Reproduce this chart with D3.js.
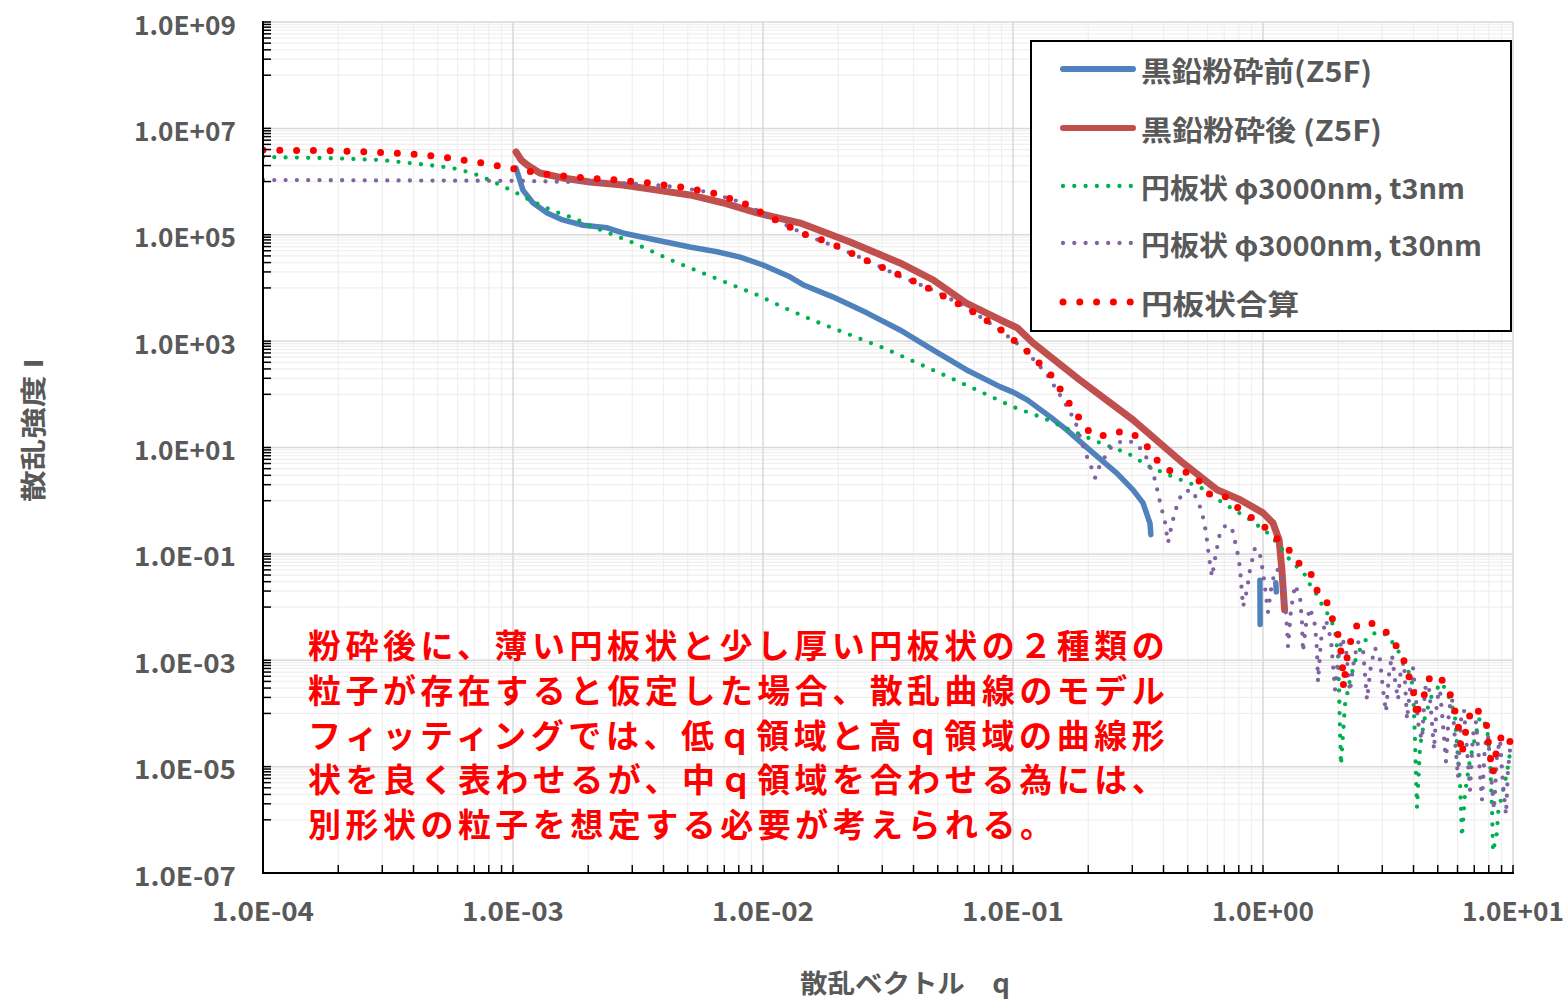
<!DOCTYPE html>
<html><head><meta charset="utf-8">
<script src="https://cdn.jsdelivr.net/npm/d3@7"></script>
<style>body{margin:0;background:#fff} svg{display:block}</style>
</head><body>
<svg id="chart" width="1565" height="1000"></svg>
<script>
// ---------- data ----------
const xTickValues = [1e-4, 1e-3, 1e-2, 1e-1, 1e0, 1e1];
const yTickValues = [1e9, 1e7, 1e5, 1e3, 1e1, 1e-1, 1e-3, 1e-5, 1e-7];
const seriesNames = ["黒鉛粉砕前(Z5F)", "黒鉛粉砕後 (Z5F)", "円板状 φ3000nm, t3nm", "円板状 φ3000nm, t30nm", "円板状合算"];
const xTitle = "散乱ベクトル　q";
const yTitle = "散乱強度 I";
const noteLines = [
  "粉砕後に、薄い円板状と少し厚い円板状の２種類の",
  "粒子が存在すると仮定した場合、散乱曲線のモデル",
  "フィッティングでは、低ｑ領域と高ｑ領域の曲線形",
  "状を良く表わせるが、中ｑ領域を合わせる為には、",
  "別形状の粒子を想定する必要が考えられる。"
];

// [q, I]  (null I = gap)
const beforeData = [
  [1.028e-3,1.8e6],[1.096e-3,6.9e5],[1.20e-3,4.0e5],[1.37e-3,2.57e5],[1.58e-3,1.9e5],[1.91e-3,1.51e5],
  [2.38e-3,1.35e5],[2.75e-3,1.08e5],[3.77e-3,7.9e4],[5.1e-3,5.9e4],[6.55e-3,4.8e4],[8.1e-3,3.8e4],
  [1.0e-2,2.7e4],[1.28e-2,1.62e4],[1.445e-2,1.15e4],[1.9e-2,6.8e3],[2.6e-2,3.4e3],[3.53e-2,1.62e3],
  [4.8e-2,680],[6.5e-2,290],[8.9e-2,138],[0.1,110],[0.114,78.5],[0.141,37.6],[0.164,21.4],[0.209,7.9],
  [0.26,3.3],[0.302,1.6],[0.331,0.91],[0.353,0.38],[0.356,0.23],
  [0.6,null],
  [0.972,0.032],[0.974,0.0047],
  [1.05,null],
  [1.125,0.0285],[1.13,0.0193]
];
const afterData = [
  [1.028e-3,3.6e6],[1.077e-3,2.55e6],[1.14e-3,2.05e6],[1.28e-3,1.45e6],[1.58e-3,1.17e6],[2.03e-3,9.8e5],
  [2.75e-3,8.6e5],[3.77e-3,6.9e5],[5.1e-3,5.6e5],[6.9e-3,4.0e5],[9.46e-3,2.57e5],[1.41e-2,1.66e5],
  [2.23e-2,7.3e4],[3.53e-2,2.95e4],[4.8e-2,1.41e4],[6.5e-2,5.2e3],[8.9e-2,2.5e3],[0.104,1.78e3],
  [0.12,930],[0.185,186],[0.302,33],[0.479,5.1],[0.655,1.6],[0.81,1.04],[1.0,0.59],[1.096,0.38],
  [1.16,0.183],[1.19,0.05],[1.22,0.0089]
];
const disk3Data = [
  [1e-4,2.9e6],[1.85e-4,2.75e6],[2.94e-4,2.55e6],[4.57e-4,2.05e6],[5.7e-4,1.8e6],[6.86e-4,1.45e6],
  [8.25e-4,1.02e6],[1e-3,6.6e5],[1.2e-3,4.2e5],[1.445e-3,2.8e5],[1.74e-3,2.07e5],[2.09e-3,1.4e5],
  [3.02e-3,7.1e4],[4.37e-3,3.2e4],[6.55e-3,1.48e4],[9.46e-3,7.4e3],[1.25e-2,4.0e3],[1.64e-2,2.3e3],
  [2.23e-2,1.31e3],[3.02e-2,750],[4.13e-2,390],[5.6e-2,205],[7.6e-2,106],[0.1,58],[0.132,36],
  [0.169,21.4],[0.223,12.2],[0.286,7.9],[0.353,4.3],[0.437,2.8],[0.56,1.8],[0.69,0.91],[0.887,0.44],
  [1.04,0.25],[1.14,0.16],[1.28,0.077],[1.5,0.037],[1.542,0.0261],[1.644,0.017],[1.722,0.011],
  [1.854,0.0063],[1.941,0.0037],[1.995,0.00126],[2.014,2.78e-4],[2.032,4.9e-5],[2.051,1.07e-5],
  [2.089,3.98e-5],[2.128,1.45e-4],[2.228,4.27e-4],[2.377,1.26e-3],[2.606,2.63e-3],[2.858,3.42e-3],
  [3.133,3.0e-3],[3.373,1.86e-3],[3.597,1.15e-3],[3.873,5.3e-4],[3.981,3.16e-4],[4.055,3.16e-5],
  [4.13,1.7e-6],[4.246,2.35e-5],[4.446,8.7e-5],[4.742,2.24e-4],[5.2,3.8e-4],[5.6,1.82e-4],[5.86,8.7e-5],
  [6.03,1.35e-5],[6.14,5.1e-6],[6.25,4.8e-7],[6.43,3.2e-6],[6.73,1.35e-5],[7.38,8.7e-5],[7.87,5.6e-5],
  [8.09,1.35e-5],[8.24,1.7e-6],[8.32,2.5e-7],[8.63,5.7e-7],[8.71,1.35e-6],[9.46,7.6e-6],[9.73,1.82e-5]
];
const disk30Data = [
  [1e-4,1.07e6],[1.047e-3,1.03e6],[1.77e-3,9.8e5],[2.40e-3,9.4e5],[3.28e-3,9.0e5],[4.45e-3,7.9e5],
  [5.97e-3,6.4e5],[8.1e-3,4.14e5],[1.148e-2,1.82e5],[1.51e-2,9.5e4],[2.01e-2,5.65e4],[2.68e-2,3.08e4],
  [3.5e-2,1.68e4],[4.66e-2,9.6e3],[6.25e-2,4.8e3],[8.63e-2,1.77e3],[0.1096,740],[0.1355,252],
  [0.1585,78.5],[0.177,31.6],[0.194,8.3],[0.207,3.96],[0.213,2.69],[0.219,3.96],[0.238,7.9],[0.251,11.2],
  [0.275,13.3],[0.302,12.7],[0.328,9.0],[0.344,6.1],[0.37,2.46],[0.387,0.95],[0.406,0.383],[0.417,0.161],
  [0.433,0.383],[0.457,0.95],[0.479,1.46],[0.52,1.6],[0.55,0.95],[0.57,0.615],[0.592,0.248],[0.608,0.088],
  [0.625,0.037],[0.649,0.105],[0.673,0.248],[0.711,0.351],[0.752,0.295],[0.787,0.119],[0.809,0.0546],
  [0.832,0.0101],[0.863,0.021],[0.887,0.050],[0.929,0.13],[0.973,0.0957],[1.0,0.0459],[1.019,0.023],
  [1.047,0.0081],[1.076,0.021],[1.117,0.050],[1.17,0.050],[1.213,0.021],[1.247,0.00425],[1.259,0.00179],
  [1.294,0.00885],[1.343,0.0261],[1.406,0.0156],[1.432,0.00527],[1.445,0.00144],[1.486,0.00462],
  [1.542,0.00966],[1.614,0.00462],[1.644,0.00157],[1.66,3.93e-4],[1.706,0.00242],[1.786,0.00574],
  [1.871,0.00242],[1.905,8.2e-4],[1.941,2.78e-4],[1.995,1.02e-3],[2.07,2.64e-3],[2.148,1.57e-3],
  [2.228,2.55e-4],[2.312,1.02e-3],[2.399,2.22e-3],[2.512,1.57e-3],[2.606,1.8e-4],[2.704,8.2e-4],
  [2.805,1.71e-3],[2.938,1.02e-3],
  [3.020,2.78e-4],[3.105,1.07e-4],[3.192,5.3e-4],[3.281,1.26e-3],[3.373,4.29e-4],[3.467,1.8e-4],
  [3.565,7.2e-4],[3.664,9.3e-4],[3.767,7.6e-5],[3.873,2.78e-4],[3.981,7.2e-4],[4.093,1.8e-4],
  [4.207,4.9e-5],[4.325,3.19e-5],[4.446,2.78e-4],[4.571,4.67e-4],[4.699,1.17e-4],[4.831,2.07e-5],
  [4.966,1.8e-4],[5.105,2.78e-4],[5.248,6.1e-5],[5.395,1.23e-5],[5.546,1.17e-4],[5.702,1.96e-4],
  [5.861,3.19e-5],[6.026,6.2e-6],[6.194,7.6e-5],[6.368,1.17e-4],[6.546,2.07e-5],[6.730,3.66e-6],
  [6.918,3.96e-5],[7.112,6.95e-5],[7.311,1.34e-5],[7.516,2.38e-6],[7.727,2.57e-5],[7.943,3.96e-5],
  [8.166,7.0e-6],[8.395,1.54e-6],[8.630,1.67e-5],[8.872,3.19e-5],[9.120,4.55e-6],[9.376,1.24e-6],
  [9.550,8.7e-6],[9.727,2.07e-5]
];
const sumData = [
  [1e-4,3.93e6],[2.09e-4,3.76e6],[3.28e-4,3.45e6],[4.45e-4,3.16e6],[5.97e-4,2.66e6],[7.94e-4,2.14e6],
  [1.066e-3,1.65e6],[1.43e-3,1.33e6],[1.92e-3,1.17e6],[2.61e-3,1.07e6],[3.5e-3,9.4e5],[4.7e-3,7.9e5],
  [6.31e-3,6.1e5],[8.32e-3,3.98e5],[1.086e-2,2.07e5],[1.42e-2,1.08e5],[1.87e-2,7.0e4],[2.47e-2,3.66e4],
  [3.22e-2,2.09e4],[4.25e-2,1.19e4],[5.55e-2,6.2e3],[7.18e-2,3.24e3],[9.2e-2,1.49e3],[0.116,600],
  [0.143,222],[0.1675,69],[0.198,21.4],[0.221,15.8],[0.254,19.6],[0.294,19.6],[0.331,13.3],[0.36,7.9],
  [0.391,4.5],[0.441,3.33],[0.511,3.48],[0.565,2.16],[0.619,1.23],[0.718,1.18],[0.794,0.733],[0.879,0.518],
  [0.991,0.351],[1.096,0.238],[1.202,0.141],[1.318,0.105],[1.419,0.057],[1.556,0.042],[1.63,0.0229],
  [1.706,0.01426],[1.803,0.0120],[1.888,6.27e-3],[1.977,3.72e-3],[2.032,1.95e-3],[2.07,1.02e-3],
  [2.089,5.37e-4],[2.10,3.02e-4],[2.148,8.2e-4],[2.208,1.95e-3],[2.29,2.75e-3],[2.377,4.62e-3],
  [2.606,5.27e-3],[2.754,4.83e-3],[2.938,4.07e-3],[3.133,3.27e-3],[3.342,2.22e-3],[3.664,9.8e-4],
  [3.873,4.29e-4],[3.98,2.78e-4],[4.055,1.8e-4],[4.13,8.3e-5],[4.207,1.58e-4],[4.365,1.8e-4],
  [4.487,3.02e-4],[4.656,4.88e-4],[4.92,5.3e-4],[5.1,4.88e-4],[5.55,2.66e-4],[5.81,1.33e-4],[6.03,6.1e-5],
  [6.14,3.19e-5],[6.25,1.67e-5],[6.37,3.19e-5],[6.55,6.1e-5],[6.73,9.4e-5],[6.92,1.33e-4],[7.31,1.07e-4],
  [7.66,8.6e-5],[7.87,5.6e-5],[8.02,2.07e-5],[8.32,7.6e-6],[8.47,1.34e-5],[8.63,2.25e-5],[8.95,3.48e-5],
  [9.38,4.3e-5],[9.73,2.92e-5]
];

// ---------- layout ----------
const svg = d3.select("#chart");
const P = {left: 263, right: 1513, top: 22, bottom: 873};
const x = d3.scaleLog().domain([1e-4, 1e1]).range([P.left, P.right]);
const y = d3.scaleLog().domain([1e-7, 1e9]).range([P.bottom, P.top]);
const FONT = "'Noto Sans CJK JP','Noto Sans',sans-serif";
const GRAY = "#595959";

const xMinor = [];
for (let e = -4; e < 1; e++) for (let k = 2; k <= 9; k++) xMinor.push(k * Math.pow(10, e));
const yMinor = [];
for (let m = -7; m < 9; m += 2) for (let k = 1; k <= 9; k++) yMinor.push(k * Math.pow(10, m + 1));

const grid = svg.append("g");
grid.selectAll(".gxm").data(xMinor).join("line")
  .attr("x1", d => x(d)).attr("x2", d => x(d)).attr("y1", P.top).attr("y2", P.bottom)
  .attr("stroke", "#efefef").attr("stroke-width", 1.2);
grid.selectAll(".gym").data(yMinor).join("line")
  .attr("x1", P.left).attr("x2", P.right).attr("y1", d => y(d)).attr("y2", d => y(d))
  .attr("stroke", "#efefef").attr("stroke-width", 1.2);
grid.selectAll(".gxM").data(xTickValues).join("line")
  .attr("x1", d => x(d)).attr("x2", d => x(d)).attr("y1", P.top).attr("y2", P.bottom)
  .attr("stroke", "#d9d9d9").attr("stroke-width", 1.5);
grid.selectAll(".gyM").data(yTickValues).join("line")
  .attr("x1", P.left).attr("x2", P.right).attr("y1", d => y(d)).attr("y2", d => y(d))
  .attr("stroke", "#d9d9d9").attr("stroke-width", 1.5);

// ---------- series ----------
svg.append("clipPath").attr("id", "clip").append("rect")
  .attr("x", P.left).attr("y", P.top - 10).attr("width", P.right - P.left + 6).attr("height", P.bottom - P.top + 10);
const line = d3.line().defined(d => d[1] != null).x(d => x(d[0])).y(d => y(d[1]));
const series = svg.append("g").attr("clip-path", "url(#clip)");
const styles = [
  {data: beforeData, color: "#4f81bd", w: 5.5, dash: null},
  {data: afterData, color: "#c0504d", w: 7, dash: null},
  {data: disk3Data, color: "#00b050", w: 4.3, dash: "0,11.3"},
  {data: disk30Data, color: "#8064a2", w: 4.3, dash: "0,11.3"},
  {data: sumData, color: "#ff0000", w: 7, dash: "0,16.8"}
];
styles.forEach(s => {
  series.append("path").datum(s.data).attr("d", line)
    .attr("fill", "none").attr("stroke", s.color).attr("stroke-width", s.w)
    .attr("stroke-linecap", "round").attr("stroke-linejoin", "round")
    .attr("stroke-dasharray", s.dash);
});

// ---------- axes ----------
const fmt = v => { const e = Math.round(Math.log10(v)); return "1.0E" + (e < 0 ? "-" : "+") + String(Math.abs(e)).padStart(2, "0"); };
const axes = svg.append("g");
axes.selectAll(".ytk").data(yTickValues.concat(yMinor)).join("line")
  .attr("x1", P.left).attr("x2", P.left + 8).attr("y1", d => y(d)).attr("y2", d => y(d))
  .attr("stroke", "#000").attr("stroke-width", 1.5);
axes.selectAll(".xtk").data(xTickValues.concat(xMinor)).join("line")
  .attr("x1", d => x(d)).attr("x2", d => x(d)).attr("y1", P.bottom).attr("y2", P.bottom - 8)
  .attr("stroke", "#000").attr("stroke-width", 1.5);
axes.append("line").attr("x1", P.left).attr("x2", P.left).attr("y1", P.top - 1).attr("y2", P.bottom + 1)
  .attr("stroke", "#000").attr("stroke-width", 2);
axes.append("line").attr("x1", P.left - 1).attr("x2", P.right + 1).attr("y1", P.bottom).attr("y2", P.bottom)
  .attr("stroke", "#000").attr("stroke-width", 2);

axes.selectAll(".ylab").data(yTickValues).join("text")
  .attr("x", 236).attr("y", d => y(d) + 1).attr("text-anchor", "end").attr("dominant-baseline", "central")
  .attr("font-family", FONT).attr("font-weight", "bold").attr("font-size", 26).attr("fill", GRAY)
  .attr("textLength", 102).attr("lengthAdjust", "spacingAndGlyphs")
  .text(fmt);
axes.selectAll(".xlab").data(xTickValues).join("text")
  .attr("x", d => x(d)).attr("y", 909).attr("text-anchor", "middle").attr("dominant-baseline", "central")
  .attr("font-family", FONT).attr("font-weight", "bold").attr("font-size", 26).attr("fill", GRAY)
  .attr("textLength", 102).attr("lengthAdjust", "spacingAndGlyphs")
  .text(fmt);

svg.append("text").attr("transform", "translate(31,430) rotate(-90)")
  .attr("text-anchor", "middle").attr("dominant-baseline", "central")
  .attr("font-family", FONT).attr("font-weight", "bold").attr("font-size", 26).attr("fill", GRAY)
  .attr("textLength", 144).attr("lengthAdjust", "spacingAndGlyphs").text(yTitle);
svg.append("text").attr("x", 905).attr("y", 981)
  .attr("text-anchor", "middle").attr("dominant-baseline", "central")
  .attr("font-family", FONT).attr("font-weight", "bold").attr("font-size", 26).attr("fill", GRAY)
  .attr("textLength", 210).attr("lengthAdjust", "spacingAndGlyphs").text(xTitle);

// ---------- legend ----------
const leg = svg.append("g");
leg.append("rect").attr("x", 1031).attr("y", 41).attr("width", 480).attr("height", 290)
  .attr("fill", "#fff").attr("stroke", "#000").attr("stroke-width", 2);
const legY = [69, 128, 186, 243, 302];
const legW = [231, 241, 324, 341, 158];
styles.forEach((s, i) => {
  leg.append("line").attr("x1", 1063).attr("x2", 1133).attr("y1", legY[i]).attr("y2", legY[i])
    .attr("stroke", s.color).attr("stroke-width", s.dash ? s.w : 6)
    .attr("stroke-linecap", "round").attr("stroke-dasharray", s.dash);
  leg.append("text").attr("x", 1141).attr("y", legY[i] + 1).attr("dominant-baseline", "central")
    .attr("font-family", FONT).attr("font-weight", "bold").attr("font-size", 28).attr("fill", GRAY)
    .attr("textLength", legW[i]).attr("lengthAdjust", "spacingAndGlyphs").text(seriesNames[i]);
});

// ---------- annotation ----------
const noteY = [644, 689, 734, 778, 823];
svg.append("g").selectAll("text").data(noteLines).join("text")
  .attr("x", 308).attr("y", (d, i) => noteY[i]).attr("dominant-baseline", "central")
  .attr("font-family", FONT).attr("font-weight", "bold").attr("font-size", 33).attr("fill", "#ff0000")
  .attr("textLength", d => Array.from(d).length * 37.25).attr("lengthAdjust", "spacing")
  .text(d => d);
</script>
</body></html>
